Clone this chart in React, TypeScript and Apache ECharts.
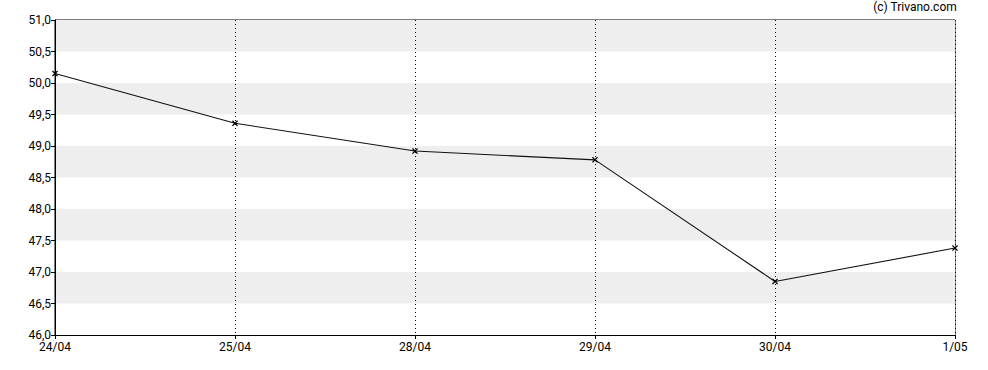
import React, { useEffect, useRef } from "react";
import * as echarts from "echarts";

const categories = ["24/04", "25/04", "28/04", "29/04", "30/04", "1/05"];
const prices = [50.15, 49.36, 48.92, 48.78, 46.85, 47.38];
const yMin = 46;
const yMax = 51;
const yStep = 0.5;
const watermark = "(c) Trivano.com";

export default function App() {
  const ref = useRef<HTMLDivElement>(null);
  useEffect(() => {
    if (!ref.current) return;
    const chart = echarts.init(ref.current, undefined, { renderer: "svg" });
    const font = "Roboto, Arial, sans-serif";
    chart.setOption({
      animation: false,
      backgroundColor: "#ffffff",
      textStyle: { fontFamily: font },
      grid: {
        left: 55,
        top: 20,
        width: 900,
        height: 315,
        show: true,
        borderColor: "#000",
        borderWidth: 1,
        backgroundColor: "transparent",
      },
      graphic: [
        {
          type: "text",
          right: 31,
          top: 1,
          style: { text: watermark, font: `12px ${font}`, fill: "#000" },
        },
      ],
      xAxis: {
        type: "category",
        data: categories,
        boundaryGap: false,
        axisLine: { lineStyle: { color: "#000", width: 1 } },
        axisTick: { show: true, length: 4, lineStyle: { color: "#000" } },
        axisLabel: { color: "#000", fontSize: 12, fontFamily: font, margin: 6 },
        splitLine: { show: true, lineStyle: { color: "#000", type: [1, 3], width: 1 } },
      },
      yAxis: {
        type: "value",
        min: yMin,
        max: yMax,
        interval: yStep,
        axisLine: { show: true, lineStyle: { color: "#000", width: 1 } },
        axisTick: { show: true, length: 4, lineStyle: { color: "#000" } },
        axisLabel: {
          color: "#000",
          fontSize: 12,
          fontFamily: font,
          margin: 4,
          formatter: (v: number) => v.toFixed(1).replace(".", ","),
        },
        splitLine: { show: false },
        splitArea: { show: true, areaStyle: { color: ["#ffffff", "#eeeeee"] } },
      },
      series: [
        {
          type: "line",
          data: prices,
          symbol: "path://M0,1.5L1.5,0L5,3.5L8.5,0L10,1.5L6.5,5L10,8.5L8.5,10L5,6.5L1.5,10L0,8.5L3.5,5Z",
          symbolSize: 6,
          itemStyle: { color: "#000" },
          lineStyle: { color: "#111", width: 1.1 },
          z: 5,
        },
      ],
    });
    return () => chart.dispose();
  }, []);
  return <div ref={ref} style={{ position: "fixed", left: 0, top: 0, width: 988, height: 370 }} />;
}
